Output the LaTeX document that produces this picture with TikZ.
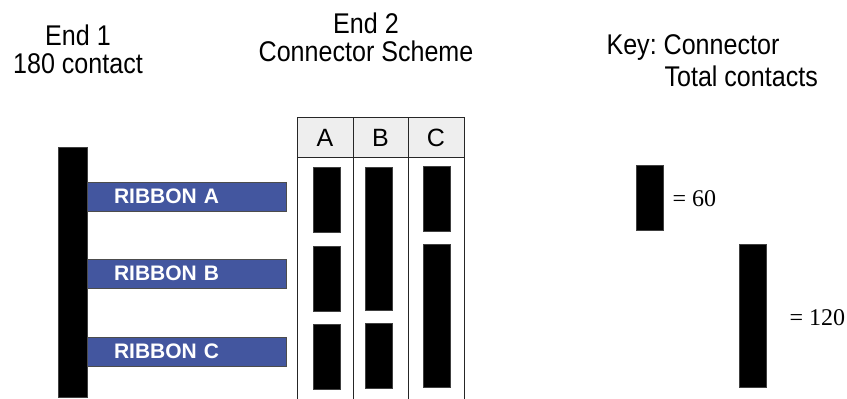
\documentclass[tikz,border=0pt]{standalone}
\usepackage{fontspec}
\setmainfont{Liberation Sans}
\newfontfamily\keyfont{Liberation Serif}
\newfontfamily\narrowfont{Liberation Sans}[FakeStretch=0.88]
\definecolor{ribbonblue}{RGB}{67,86,159}
\definecolor{headgray}{RGB}{238,238,238}
\tikzset{
  conn/.style={
    % The shape:
    rectangle,inner sep=0pt,
    % The size:
    minimum width=27pt,
    % The border and filling:
    draw=black!75,fill=black},
  conn60/.style={conn,minimum height=65pt},
  conn120/.style={conn,minimum height=143pt}}
\tikzset{
	ribbon/.style={
		% The shape:
		rectangle,minimum width=199pt,minimum height=29pt,
		inner xsep=27pt,text width=145pt,align=left,
		% The rest
		draw=black!70,fill=ribbonblue,
		text=white,font=\fontsize{21}{23}\selectfont\bfseries},
	title/.style={align=center,font=\narrowfont\fontsize{28.5}{28}\selectfont},
	colhead/.style={font=\fontsize{25}{27}\selectfont},
	keytext/.style={anchor=west,font=\keyfont\fontsize{24}{26}\selectfont}}

\begin{document}
\frenchspacing
\begin{tikzpicture}[x=1pt,y=-1pt]
	\useasboundingbox (0,0) rectangle (847,399);
	% Titles
	\node[title] (end1) at (78,49) {End 1\\180 contact};
	\node[title] (end2) at (366,37) {End 2\\Connector Scheme};
	\node[title,anchor=west] (key1) at (603,48) {Key: Connector};
	\node[title,anchor=west] (key2) at (661,76) {Total contacts};
	% End 1 connector and ribbons
	\node[conn,minimum width=29pt,minimum height=250pt] (e1) at (72.5,272) {};
	\node[ribbon] (ra) at (186.5,196.5) {RIBBON A};
	\node[ribbon] (rb) at (186.5,273.5) {RIBBON B};
	\node[ribbon] (rc) at (186.5,351.5) {RIBBON C};
	% Connector scheme table
	\fill[headgray] (297,117) rectangle (464,157);
	\draw[black!85] (297,399) -- (297,117) -- (464,117) -- (464,399);
	\draw[black!85] (297,157) -- (464,157);
	\draw[black!85] (353,117) -- (353,399);
	\draw[black!85] (408,117) -- (408,399);
	\node[colhead] (ha) at (325,138) {A};
	\node[colhead] (hb) at (380.5,138) {B};
	\node[colhead] (hc) at (436,138) {C};
	% Column A
	\node[conn60] (a1) at (326.5,199.5) {};
	\node[conn60] (a2) at (326.5,278.5) {};
	\node[conn60] (a3) at (326.5,356.5) {};
	% Column B
	\node[conn120] (b1) at (379,238.5) {};
	\node[conn60] (b2) at (379,355.5) {};
	% Column C
	\node[conn60] (c1) at (436.5,198.5) {};
	\node[conn120] (c2) at (436.5,316) {};
	% Key
	\node[conn60] (k60) at (649.5,198) {};
	\node[keytext] (t60) at (669,199) {= 60};
	\node[conn120] (k120) at (752.5,315.5) {};
	\node[keytext] (t120) at (786,318) {= 120};
\end{tikzpicture}
\end{document}
